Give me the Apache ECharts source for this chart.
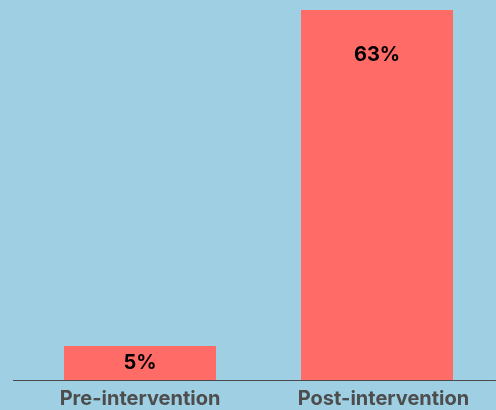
<!DOCTYPE html>
<html>
<head>
<meta charset="utf-8">
<script src="https://cdn.jsdelivr.net/npm/echarts@6/dist/echarts.min.js"></script>
<style>
html,body{margin:0;padding:0;background:#9ecfe2;}
#chart{width:496px;height:410px;}
</style>
</head>
<body>
<div id="chart"></div>
<script>
const categories = ["Pre-intervention", "Post-intervention"];
const values = [5.8, 63];
const valueLabels = ["5%", "63%"];

const chart = echarts.init(document.getElementById('chart'), null, {renderer: 'canvas'});
chart.setOption({
  backgroundColor: '#9ecfe2',
  animation: false,
  grid: {left: 21.5, right: 0.5, top: 10, bottom: 30, containLabel: false},
  graphic: [{
    type: 'line', silent: true,
    shape: {x1: 13, y1: 380.5, x2: 22, y2: 380.5},
    style: {stroke: '#4a4a4a', lineWidth: 1}
  }],
  xAxis: {
    type: 'category',
    data: categories.map((c, i) => i === 1
      ? {value: c, textStyle: {padding: [0, 0, 0, 13]}}
      : c),
    axisLine: {show: true, lineStyle: {color: '#4a4a4a', width: 1}},
    axisTick: {show: false},
    axisLabel: {color: '#4d4d4d', fontSize: 20, fontWeight: 'bold', fontFamily: 'Inter', margin: 9, interval: 0}
  },
  yAxis: {
    type: 'value', min: 0, max: 63, show: false,
    splitLine: {show: false}
  },
  series: [{
    type: 'bar',
    barWidth: 152,
    data: values.map((v, i) => ({
      value: v,
      label: i === 0
        ? {position: 'inside'}
        : {position: 'insideTop', distance: 35}
    })),
    itemStyle: {color: '#ff6b66'},
    label: {
      show: true,
      color: '#000',
      fontSize: 20,
      fontWeight: 'bold',
      fontFamily: 'Inter',
      formatter: p => valueLabels[p.dataIndex]
    }
  }]
});
</script>
</body>
</html>
